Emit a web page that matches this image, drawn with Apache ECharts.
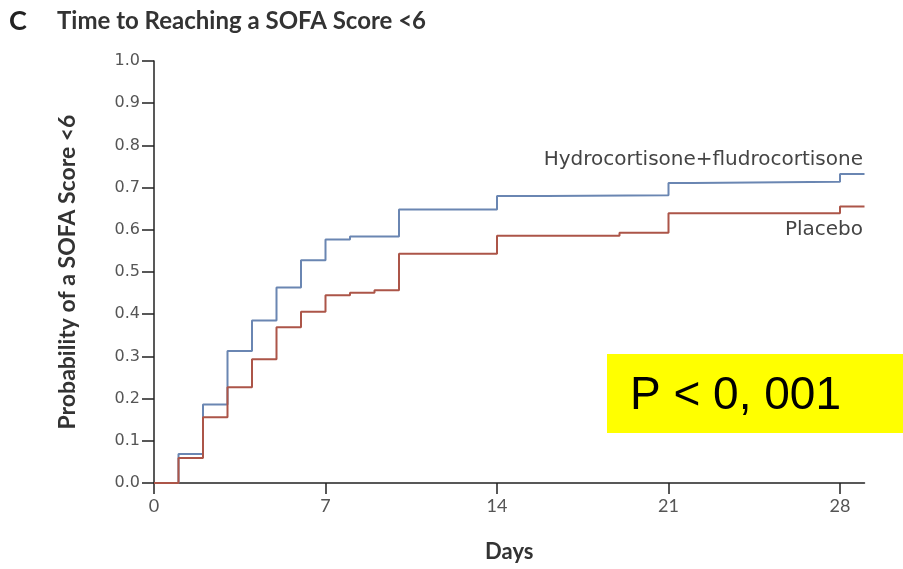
<!DOCTYPE html>
<html>
<head>
<meta charset="utf-8">
<title>Time to Reaching a SOFA Score &lt;6</title>
<script src="https://cdn.jsdelivr.net/npm/echarts@6/dist/echarts.min.js"></script>
<style>
  html, body { margin: 0; padding: 0; background: #fff; }
  #chart { width: 903px; height: 569px; }
</style>
</head>
<body>
<div id="chart"></div>
<script>
// Kaplan-Meier style cumulative probability of reaching SOFA < 6
const xTicks = [0, 7, 14, 21, 28];
const yTicks = ['0.0', '0.1', '0.2', '0.3', '0.4', '0.5', '0.6', '0.7', '0.8', '0.9', '1.0'];

const hfDays = [0, 1, 2, 3, 4, 5, 6, 7, 8, 10, 14, 16, 21, 22, 28, 29];
const hfProb = [0, 0.069, 0.186, 0.313, 0.385, 0.463, 0.528, 0.577, 0.584, 0.648, 0.680, 0.682, 0.711, 0.714, 0.732, 0.732];

const pbDays = [0, 1, 2, 3, 4, 5, 6, 7, 8, 9, 10, 14, 19, 21, 28, 29];
const pbProb = [0, 0.059, 0.156, 0.227, 0.293, 0.369, 0.406, 0.445, 0.451, 0.457, 0.543, 0.586, 0.593, 0.639, 0.655, 0.655];

const seriesNames = ['Hydrocortisone+fludrocortisone', 'Placebo'];
const pValueText = 'P < 0, 001';

const pairs = (xs, ys) => xs.map((x, i) => [x, ys[i]]);

const chart = echarts.init(document.getElementById('chart'), null, { renderer: 'canvas' });

const axisColor = '#222';
const tickText = '#555';

chart.setOption({
  animation: false,
  backgroundColor: '#fff',
  grid: { left: 154, right: 38.5, top: 61, bottom: 86, containLabel: false, outerBoundsMode: 'none' },
  xAxis: {
    type: 'value',
    min: 0,
    max: 29,
    interval: 7,
    name: 'Days',
    nameLocation: 'middle',
    nameGap: 58,
    nameTextStyle: { fontFamily: 'Lato', fontWeight: 'bold', fontSize: 22, color: '#333' },
    axisLine: { show: true, lineStyle: { color: axisColor, width: 1.5 } },
    axisTick: { show: true, length: 11, customValues: xTicks, lineStyle: { color: axisColor, width: 1.5 } },
    axisLabel: {
      fontFamily: 'Lato', fontSize: 18, color: tickText, margin: 14,
      customValues: xTicks
    },
    splitLine: { show: false }
  },
  yAxis: {
    type: 'value',
    min: 0,
    max: 1,
    interval: 0.1,
    name: 'Probability of a SOFA Score <6',
    nameLocation: 'middle',
    nameRotate: 90,
    nameGap: 75,
    nameTextStyle: { fontFamily: 'Lato', fontWeight: 'bold', fontSize: 23, color: '#333' },
    axisLine: { show: true, lineStyle: { color: axisColor, width: 1.5 } },
    axisTick: { show: true, length: 12, lineStyle: { color: axisColor, width: 1.5 } },
    axisLabel: {
      fontFamily: 'DejaVu Sans', fontSize: 16, color: tickText, margin: 14,
      formatter: v => yTicks[Math.round(v * 10)]
    },
    splitLine: { show: false }
  },
  series: [
    {
      name: seriesNames[0],
      type: 'line',
      step: 'end',
      symbol: 'none',
      data: pairs(hfDays, hfProb),
      lineStyle: { color: '#6a86b2', width: 2 },
      z: 3
    },
    {
      name: seriesNames[1],
      type: 'line',
      step: 'end',
      symbol: 'none',
      data: pairs(pbDays, pbProb),
      lineStyle: { color: '#ac5548', width: 2 },
      z: 4
    }
  ],
  graphic: [
    {
      type: 'text', left: 9, top: 8,
      style: { text: 'C', font: 'bold 27px Lato', fill: '#222' }
    },
    {
      type: 'text', left: 57, top: 9,
      style: { text: 'Time to Reaching a SOFA Score <6', font: 'bold 24px Lato', fill: '#333' }
    },
    {
      type: 'text', right: 40, top: 150,
      style: { text: seriesNames[0], font: '20px "DejaVu Sans"', fill: '#444', textAlign: 'right' }
    },
    {
      type: 'text', right: 40, top: 220,
      style: { text: seriesNames[1], font: '20px "DejaVu Sans"', fill: '#444', textAlign: 'right' }
    },
    {
      type: 'rect',
      shape: { x: 607, y: 354, width: 296, height: 79 },
      style: { fill: '#ffff00' },
      z: 10
    },
    {
      type: 'text', x: 630, y: 396,
      style: { text: pValueText, font: '46px "Liberation Sans"', fill: '#000', textVerticalAlign: 'middle' },
      z: 11
    }
  ]
});
</script>
</body>
</html>
